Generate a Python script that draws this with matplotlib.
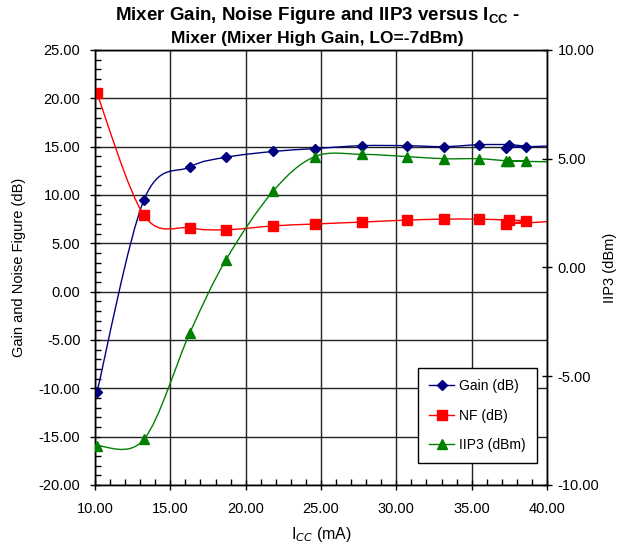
"""Mixer gain, noise figure and IIP3 versus ICC (Excel-style smoothed lines)."""

import matplotlib
matplotlib.use("Agg")
import matplotlib.pyplot as plt
import numpy as np
from matplotlib.path import Path
from matplotlib.patches import PathPatch
from matplotlib.ticker import MultipleLocator, FormatStrFormatter

plt.rcParams["font.family"] = ["Liberation Sans", "DejaVu Sans"]
plt.rcParams["mathtext.fontset"] = "custom"
plt.rcParams["mathtext.rm"] = "Liberation Sans"
plt.rcParams["mathtext.bf"] = "Liberation Sans:bold"

# measured points, in the order the series was recorded
icc = [10.13, 13.25, 16.30, 18.69, 21.81, 24.60, 27.72, 30.70, 33.16, 35.48, 37.47, 38.60, 37.27, 40.60]
gain_db = [-10.4, 9.5, 12.9, 13.9, 14.5, 14.8, 15.1, 15.1, 15.0, 15.2, 15.2, 15.0, 14.9, 15.1]
nf_db = [20.5, 7.9, 6.6, 6.4, 6.8, 7.0, 7.2, 7.4, 7.5, 7.5, 7.4, 7.3, 7.0, 7.3]
iip3_dbm = [-8.2, -7.9, -3.0, 0.35, 3.5, 5.1, 5.2, 5.1, 5.0, 5.0, 4.9, 4.9, 4.9, 4.85]

GAIN_COLOR = "#000080"
NF_COLOR = "#ff0000"
IIP3_COLOR = "#008000"


def smooth_path(xs, ys):
    """Catmull-Rom style Bezier path through the points (like Excel 'smoothed line')."""
    pts = np.column_stack([xs, ys]).astype(float)
    n = len(pts)
    verts = [pts[0]]
    codes = [Path.MOVETO]
    for i in range(n - 1):
        p0 = pts[max(i - 1, 0)]
        p1 = pts[i]
        p2 = pts[i + 1]
        p3 = pts[min(i + 2, n - 1)]
        c1 = p1 + (p2 - p0) / 6.0
        c2 = p2 - (p3 - p1) / 6.0
        verts += [c1, c2, p2]
        codes += [Path.CURVE4] * 3
    return Path(verts, codes)


fig = plt.figure(figsize=(6.35, 5.45), dpi=100)
ax = fig.add_axes([0.1496, 0.1101, 0.7118, 0.7982])
ax2 = ax.twinx()

ax.set_xlim(10, 40)
ax.set_ylim(-20, 25)
ax2.set_ylim(-10, 10)

ax.grid(True, which="major", color="#222222", linewidth=1.0)
ax.set_axisbelow(True)

for xs, ys, color, marker, ms, axis in [
    (icc, gain_db, GAIN_COLOR, "D", 5.5, ax),
    (icc, nf_db, NF_COLOR, "s", 7, ax),
    (icc, iip3_dbm, IIP3_COLOR, "^", 7.5, ax2),
]:
    patch = PathPatch(smooth_path(xs, ys), facecolor="none", edgecolor=color,
                      linewidth=1.0, transform=axis.transData)
    axis.add_patch(patch)
    axis.plot(xs, ys, linestyle="none", marker=marker, markersize=ms,
              color=color, markeredgecolor=color, clip_on=True, zorder=3)

ax.xaxis.set_major_locator(MultipleLocator(5))
ax.xaxis.set_minor_locator(MultipleLocator(1))
ax.yaxis.set_major_locator(MultipleLocator(5))
ax.yaxis.set_minor_locator(MultipleLocator(1))
ax2.yaxis.set_major_locator(MultipleLocator(5))
ax.xaxis.set_major_formatter(FormatStrFormatter("%.2f"))
ax.yaxis.set_major_formatter(FormatStrFormatter("%.2f"))
ax2.yaxis.set_major_formatter(FormatStrFormatter("%.2f"))

ax.tick_params(axis="both", which="major", direction="inout", length=7, width=1,
               labelsize=10.5, colors="black")
ax.tick_params(axis="y", which="major", pad=7)
ax.tick_params(axis="x", which="major", pad=9)
ax.tick_params(axis="both", which="minor", direction="in", length=4, width=1)
ax2.tick_params(axis="y", which="major", direction="inout", length=7, width=1,
                labelsize=10.5, pad=4)

for spine in list(ax.spines.values()) + list(ax2.spines.values()):
    spine.set_color("black")
    spine.set_linewidth(1.0)

ax.set_xlabel("I$_{CC}$ (mA)", fontsize=11.5, labelpad=6)
ax.set_ylabel("Gain and Noise Figure (dB)", fontsize=10.5, labelpad=9)
ax2.set_ylabel("IIP3 (dBm)", fontsize=10.5, labelpad=3)

fig.text(0.5, 0.972, r"Mixer Gain, Noise Figure and IIP3 versus I$_\mathbf{CC}$ -",
         ha="center", va="center", fontsize=13.5, fontweight="bold")
fig.text(0.5, 0.930, "Mixer (Mixer High Gain, LO=-7dBm)",
         ha="center", va="center", fontsize=12.5, fontweight="bold")

handles = [
    plt.Line2D([], [], color=GAIN_COLOR, marker="D", markersize=5, linewidth=1.0),
    plt.Line2D([], [], color=NF_COLOR, marker="s", markersize=6.5, linewidth=1.0),
    plt.Line2D([], [], color=IIP3_COLOR, marker="^", markersize=7, linewidth=1.0),
]
leg = ax2.legend(handles, ["Gain (dB)", "NF (dB)", "IIP3 (dBm)"],
                 loc="lower left", bbox_to_anchor=(0.7146, 0.0506),
                 borderaxespad=0, fontsize=10, frameon=True, fancybox=False,
                 framealpha=1, edgecolor="black", handlelength=1.8,
                 labelspacing=1.1, borderpad=0.8, handletextpad=0.35)
leg.get_frame().set_linewidth(1.0)

fig.savefig("out.png", dpi=100)
